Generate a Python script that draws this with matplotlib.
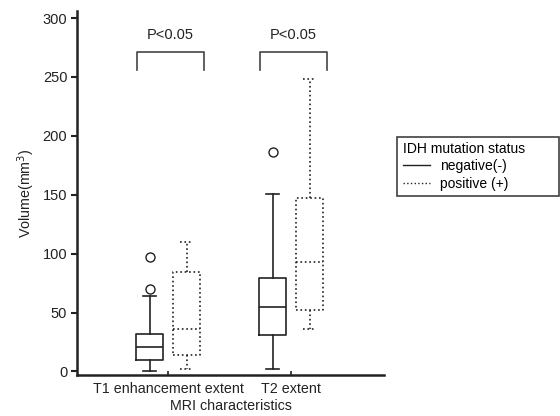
import matplotlib
matplotlib.use('Agg')
import matplotlib.pyplot as plt
from matplotlib.lines import Line2D

plt.rcParams['font.family'] = ['Liberation Sans', 'DejaVu Sans']

categories = ['T1 enhancement extent', 'T2 extent']
groups = ['negative(-)', 'positive (+)']

# box stats per category: [negative, positive] -> (whislo, q1, med, q3, whishi, fliers)
t1_neg = (0, 10, 21, 32, 64, [70, 97])
t1_pos = (2, 14, 36, 84, 110, [])
t2_neg = (2, 31, 55, 79, 151, [186])
t2_pos = (36, 52, 93, 147, 248, [])
stats_all = [[t1_neg, t1_pos], [t2_neg, t2_pos]]

p_text = ['P<0.05', 'P<0.05']

dark = '#222222'

fig = plt.figure(figsize=(5.6, 4.16), dpi=100)
ax = fig.add_axes([0.1375, 0.0986, 0.5485, 0.875])

offset = 0.15
styles = ['-', ':']
for i, cat in enumerate(categories):
    for j, s in enumerate(stats_all[i]):
        lo, q1, med, q3, hi, fl = s
        st = [dict(whislo=lo, q1=q1, med=med, q3=q3, whishi=hi, fliers=fl)]
        pos = i + 1 + (offset if j else -offset)
        ls = styles[j]
        lw = 1.2
        ax.bxp(st, positions=[pos], widths=0.22, showfliers=True,
               boxprops=dict(color=dark, linestyle=ls, linewidth=lw),
               whiskerprops=dict(color=dark, linestyle=ls, linewidth=lw),
               capprops=dict(color=dark, linestyle=ls, linewidth=lw),
               medianprops=dict(color=dark, linestyle=ls, linewidth=lw),
               flierprops=dict(marker='o', markerfacecolor='white',
                               markeredgecolor=dark, markersize=6.5,
                               markeredgewidth=1.0),
               manage_ticks=False)

# significance brackets
for i, t in enumerate(p_text):
    x0 = i + 1 - 0.25
    x1 = i + 1 + 0.29
    ax.plot([x0, x0, x1, x1], [256, 271, 271, 256], color='#444444',
            linewidth=1.2, clip_on=False)
    ax.text(i + 1.02, 286, t, ha='center', va='center', fontsize=10.5,
            color='#222222')

ax.set_xlim(0.26, 2.756)
ax.set_ylim(-3, 306)
ax.set_yticks([0, 50, 100, 150, 200, 250, 300])
ax.set_xticks([1, 2])
ax.set_xticklabels(categories)
ax.tick_params(axis='y', direction='out', length=4, width=1.5, labelsize=10.5,
               colors=dark, pad=3)
ax.tick_params(axis='x', direction='in', length=3, width=1.2, labelsize=10.3,
               colors=dark, pad=5)
ax.spines['top'].set_visible(False)
ax.spines['right'].set_visible(False)
ax.spines['left'].set_linewidth(1.8)
ax.spines['bottom'].set_linewidth(1.8)
ax.spines['left'].set_color(dark)
ax.spines['bottom'].set_color(dark)

ax.set_ylabel('Volume(mm$^3$)', fontsize=10.3, color=dark, labelpad=4)
ax.set_xlabel('MRI characteristics', fontsize=10.3, color=dark, labelpad=2)

handles = [Line2D([], [], color=dark, linestyle='-', linewidth=1.0),
           Line2D([], [], color=dark, linestyle=':', linewidth=1.0)]
leg = fig.legend(handles, groups, title='IDH mutation status',
                 loc='upper left',
                 bbox_to_anchor=(397 / 560, 1 - 141 / 416, 162 / 560, 0.01),
                 mode='expand', borderaxespad=0,
                 fontsize=10, title_fontsize=10, frameon=True, fancybox=False,
                 handlelength=2.0, handletextpad=0.7, borderpad=0.4,
                 labelspacing=0.25, alignment='left')
leg.get_frame().set_edgecolor('#111111')
leg.get_frame().set_linewidth(1.2)
leg._legend_box.sep = 2

fig.savefig('out.png', dpi=100)
